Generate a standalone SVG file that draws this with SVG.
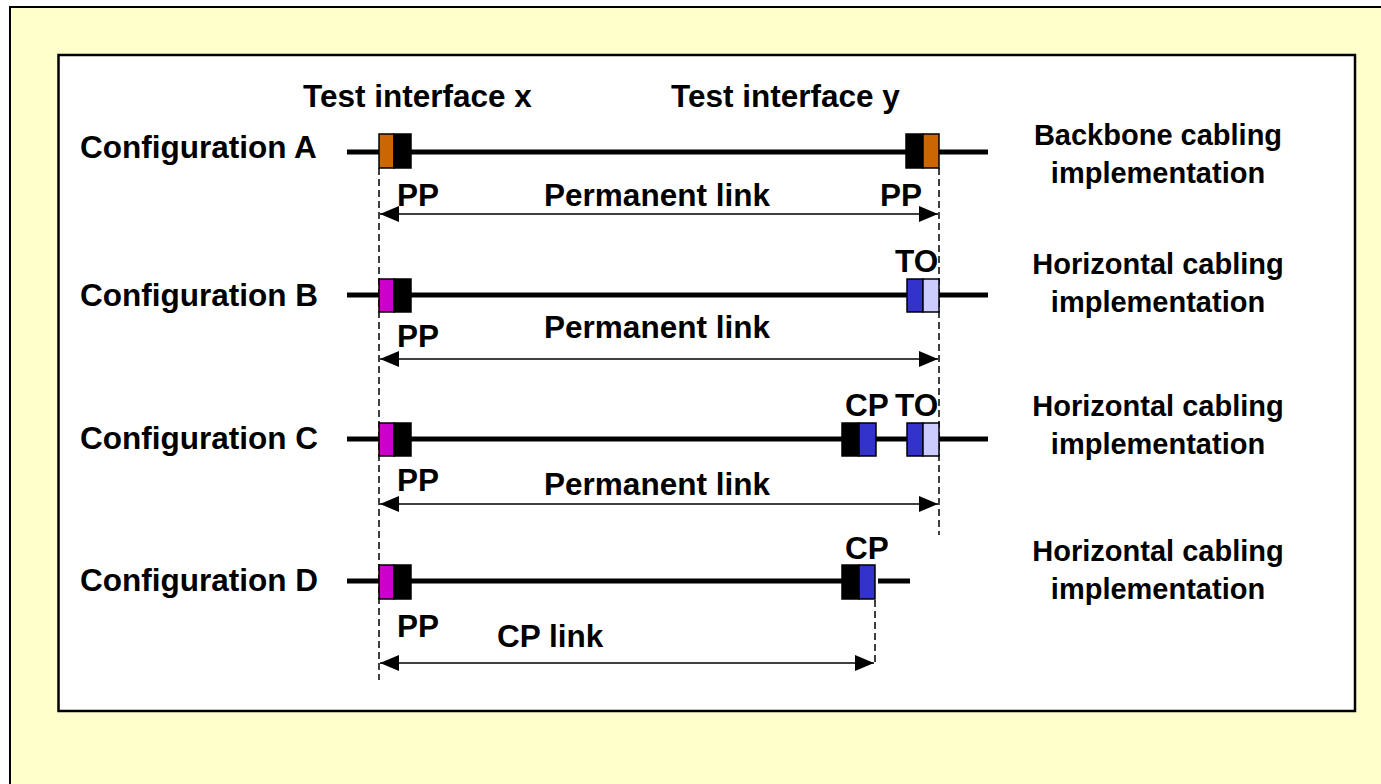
<svg xmlns="http://www.w3.org/2000/svg" width="1381" height="784" viewBox="0 0 1381 784">
<style>
text{font-family:"Liberation Sans",Arial,sans-serif;font-weight:bold;font-size:31.5px;fill:#000}
.m{text-anchor:middle}
.r{text-anchor:middle;font-size:29px}
.cable{stroke:#000;stroke-width:5;fill:none}
.dash{stroke:#000;stroke-width:1.5;stroke-dasharray:7,4;fill:none}
.dim{stroke:#000;stroke-width:1.5;fill:none}
.box{stroke:#000;stroke-width:1.5}
.k{fill:#000}.o{fill:#CC6600}.p{fill:#CC00CC}.b{fill:#3333CC}.l{fill:#CCCCFF}
</style>
<defs>
<marker id="ah" markerWidth="19" markerHeight="16" refX="19" refY="8" orient="auto-start-reverse" markerUnits="userSpaceOnUse">
<path d="M0,0 L19,8 L0,16 Z" fill="#000"/>
</marker>
</defs>
<rect x="0" y="0" width="1381" height="784" fill="#fff"/>
<rect x="10" y="7" width="1400" height="800" fill="#FFFFCC" stroke="#000" stroke-width="2"/>
<rect x="58.5" y="55" width="1296.5" height="656" fill="#fff" stroke="#000" stroke-width="2.5"/>

<g id="connectors">
<line class="dash" x1="379" y1="168" x2="379" y2="680"/>
<line class="dash" x1="939" y1="168" x2="939" y2="535"/>
<line class="dash" x1="875" y1="600" x2="875" y2="663"/>
<line class="dim" x1="380" y1="214" x2="938" y2="214" marker-start="url(#ah)" marker-end="url(#ah)"/>
<line class="dim" x1="380" y1="359" x2="938" y2="359" marker-start="url(#ah)" marker-end="url(#ah)"/>
<line class="dim" x1="380" y1="504" x2="938" y2="504" marker-start="url(#ah)" marker-end="url(#ah)"/>
<line class="dim" x1="380" y1="663" x2="874" y2="663" marker-start="url(#ah)" marker-end="url(#ah)"/>
</g>

<g id="header">
<text x="303" y="107">Test interface x</text>
<text x="671" y="107">Test interface y</text>
</g>

<g id="configA">
<text x="80" y="158">Configuration A</text>
<line class="cable" x1="347" y1="152" x2="988" y2="152"/>
<rect class="box o" x="379" y="134" width="15" height="34"/>
<rect class="box k" x="394" y="134" width="17" height="34"/>
<rect class="box k" x="906" y="134" width="17" height="34"/>
<rect class="box o" x="923" y="134" width="16" height="34"/>
<text x="397" y="206">PP</text>
<text class="m" x="657" y="206">Permanent link</text>
<text x="880" y="206">PP</text>
<text class="r" x="1158" y="145">Backbone cabling</text>
<text class="r" x="1158" y="183">implementation</text>
</g>

<g id="configB">
<text x="80" y="306">Configuration B</text>
<line class="cable" x1="347" y1="295" x2="988" y2="295"/>
<rect class="box p" x="379" y="279" width="15" height="33"/>
<rect class="box k" x="394" y="279" width="17" height="33"/>
<rect class="box b" x="907" y="279" width="16" height="33"/>
<rect class="box l" x="923" y="279" width="16" height="33"/>
<text x="895" y="272">TO</text>
<text x="397" y="347">PP</text>
<text class="m" x="657" y="338">Permanent link</text>
<text class="r" x="1158" y="274">Horizontal cabling</text>
<text class="r" x="1158" y="312">implementation</text>
</g>

<g id="configC">
<text x="80" y="449">Configuration C</text>
<line class="cable" x1="347" y1="439" x2="988" y2="439"/>
<rect class="box p" x="379" y="423" width="15" height="33"/>
<rect class="box k" x="394" y="423" width="17" height="33"/>
<rect class="box k" x="842" y="423" width="17" height="33"/>
<rect class="box b" x="859" y="423" width="17" height="33"/>
<rect class="box b" x="907" y="423" width="16" height="33"/>
<rect class="box l" x="923" y="423" width="16" height="33"/>
<text x="845" y="416">CP</text>
<text x="895" y="416">TO</text>
<text x="397" y="491">PP</text>
<text class="m" x="657" y="495">Permanent link</text>
<text class="r" x="1158" y="416">Horizontal cabling</text>
<text class="r" x="1158" y="454">implementation</text>
</g>

<g id="configD">
<text x="80" y="591">Configuration D</text>
<line class="cable" x1="347" y1="581" x2="842" y2="581"/>
<line class="cable" x1="878" y1="581" x2="910" y2="581"/>
<rect class="box p" x="379" y="565" width="15" height="34"/>
<rect class="box k" x="394" y="565" width="17" height="34"/>
<rect class="box k" x="842" y="565" width="17" height="34"/>
<rect class="box b" x="859" y="565" width="16" height="34"/>
<text x="845" y="559">CP</text>
<text x="397" y="637">PP</text>
<text x="497" y="647">CP link</text>
<text class="r" x="1158" y="561">Horizontal cabling</text>
<text class="r" x="1158" y="599">implementation</text>
</g>
</svg>
